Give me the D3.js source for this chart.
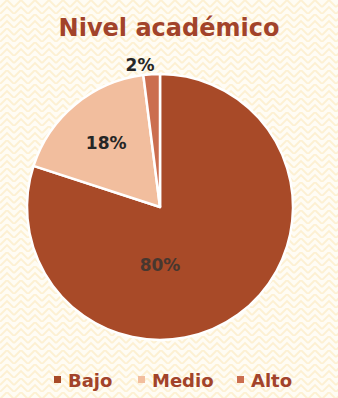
<!DOCTYPE html>
<html><head><meta charset="utf-8">
<script src="https://cdn.jsdelivr.net/npm/d3@7"></script>
<style>html,body{margin:0;padding:0;background:#fffaf0;}svg{display:block;}</style>
</head><body>
<script>
const categories = ["Bajo", "Medio", "Alto"];
const values = [80, 18, 2];
const labels = ["80%", "18%", "2%"];
const colors = ["#A84A28", "#F2BE9E", "#CB6E4F"];
const title = "Nivel académico";

const W = 338, H = 398;
const svg = d3.select("body").append("svg").attr("width", W).attr("height", H);

// background herringbone pattern
const defs = svg.append("defs");
const pat = defs.append("pattern").attr("id", "hb").attr("patternUnits", "userSpaceOnUse")
  .attr("width", 14).attr("height", 14);
pat.append("rect").attr("width", 14).attr("height", 14).attr("fill", "#FFFCF4");
pat.append("path").attr("d", "M0,7 L7,0 M7,0 L14,7 M0,14 L7,7 L14,14")
  .attr("fill", "none").attr("stroke", "#FDF0D2").attr("stroke-width", 1.8);
svg.append("rect").attr("width", W).attr("height", H).attr("fill", "url(#hb)");

svg.append("text").attr("x", 169).attr("y", 36).attr("text-anchor", "middle")
  .attr("font-family", "DejaVu Sans").attr("font-weight", "bold").attr("font-size", 24)
  .attr("fill", "#A2432A").text(title);

const cx = 160, cy = 207, r = 133;
const pie = d3.pie().sort(null).value(d => d)(values);
const arc = d3.arc().innerRadius(0).outerRadius(r);
const g = svg.append("g").attr("transform", `translate(${cx},${cy})`);
g.selectAll("path").data(pie).join("path")
  .attr("d", arc).attr("fill", (d, i) => colors[i])
  .attr("stroke", "#ffffff").attr("stroke-width", 2.5).attr("stroke-linejoin", "round");

// label placement (polar: angle in degrees clockwise from top, radius fraction)
const labelPolar = [[180, 0.44], [320, 0.63], [352, 1.08]];
g.selectAll("text.lab").data(pie).join("text").attr("class", "lab")
  .attr("transform", (d, i) => {
    const a = labelPolar[i][0] * Math.PI / 180, rr = labelPolar[i][1] * r;
    return `translate(${rr * Math.sin(a)},${-rr * Math.cos(a)})`;
  })
  .attr("text-anchor", "middle").attr("dy", "0.35em")
  .attr("font-family", "DejaVu Sans").attr("font-weight", "bold").attr("font-size", 17)
  .attr("fill", (d, i) => i === 0 ? "#47372f" : "#262626")
  .text((d, i) => labels[i]);

// legend
const legX = [54, 138, 237];
const lg = svg.append("g");
categories.forEach((c, i) => {
  lg.append("rect").attr("x", legX[i]).attr("y", 376).attr("width", 7).attr("height", 7).attr("fill", colors[i]);
  lg.append("text").attr("x", legX[i] + 14).attr("y", 387)
    .attr("font-family", "DejaVu Sans").attr("font-weight", "bold").attr("font-size", 18)
    .attr("fill", "#A2432A").text(c);
});
</script>
</body></html>
